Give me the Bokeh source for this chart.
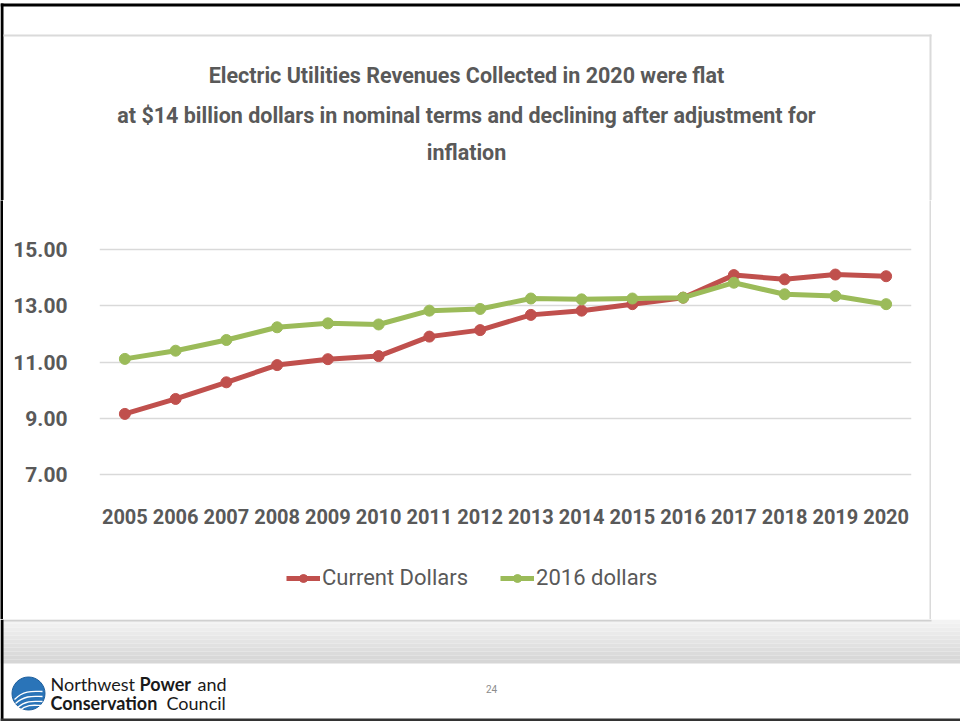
from bokeh.plotting import figure
from bokeh.models import (Range1d, FixedTicker, NumeralTickFormatter, Legend,
                          LegendItem, Spacer)
from bokeh.layouts import column, row
from bokeh.core.properties import value
from bokeh.embed import file_html
from bokeh.resources import INLINE

# ---------------- data ----------------
years = [2005, 2006, 2007, 2008, 2009, 2010, 2011, 2012,
         2013, 2014, 2015, 2016, 2017, 2018, 2019, 2020]
current_dollars = [9.16, 9.69, 10.28, 10.89, 11.10, 11.21, 11.90, 12.13,
                   12.67, 12.82, 13.05, 13.28, 14.08, 13.93, 14.10, 14.04]
dollars_2016 = [11.11, 11.40, 11.78, 12.23, 12.37, 12.33, 12.82, 12.88,
                13.25, 13.22, 13.25, 13.28, 13.81, 13.40, 13.34, 13.05]
y_ticks = [7, 9, 11, 13, 15]
series_names = ["Current Dollars", "2016 dollars"]
title_lines = ["Electric Utilities Revenues Collected in 2020 were flat",
               "at $14 billion dollars in nominal terms and declining after adjustment for",
               "inflation"]

RED = "#c0504d"
GREEN = "#9bbb59"
TXT = "#595959"
BOX = "#dadada"
FONT = "Roboto"


def blank(width, height, xr, yr):
    f = figure(width=width, height=height, x_range=Range1d(*xr), y_range=Range1d(*yr),
               output_backend="svg", toolbar_location=None, min_border=0,
               background_fill_color="white", border_fill_color="white")
    f.axis.visible = False
    f.grid.visible = False
    f.outline_line_color = None
    return f


# ---------------- top strip with title ----------------
top = blank(960, 200, (0, 960), (200, 0))
top.quad(left=0, right=960, top=3, bottom=6, fill_color="black", line_color=None)
top.quad(left=0, right=3, top=3, bottom=200, fill_color="black", line_color=None)
top.quad(left=3, right=931, top=34, bottom=36, fill_color=BOX, line_color=None)
top.quad(left=929, right=931, top=34, bottom=200, fill_color=BOX, line_color=None)
top.text(x=[466, 466, 466], y=[75, 115, 152], text=title_lines,
         text_font=value(FONT), text_font_style="bold", text_font_size="21.5px",
         text_color=TXT, text_align="center", text_baseline="middle")

# ---------------- chart ----------------
p = figure(frame_width=812, frame_height=237,
           x_range=Range1d(2004.5, 2020.5), y_range=Range1d(6.8, 15.2),
           output_backend="svg", toolbar_location=None,
           min_border_left=96, min_border_right=18,
           min_border_top=43, min_border_bottom=60,
           background_fill_color="white", border_fill_color="white")
p.outline_line_color = None
p.xgrid.visible = False
p.ygrid.ticker = FixedTicker(ticks=y_ticks)
p.ygrid.grid_line_color = "#d9d9d9"
p.ygrid.grid_line_width = 1.5

p.yaxis.ticker = FixedTicker(ticks=y_ticks)
p.yaxis.formatter = NumeralTickFormatter(format="0.00")
p.xaxis.ticker = FixedTicker(ticks=years)
for ax in (p.xaxis, p.yaxis):
    ax.axis_line_color = None
    ax.major_tick_line_color = None
    ax.minor_tick_line_color = None
    ax.major_label_text_font = FONT
    ax.major_label_text_font_style = "bold"
    ax.major_label_text_color = TXT
p.yaxis.major_label_text_font_size = "21px"
p.xaxis.major_label_text_font_size = "20px"
p.yaxis.major_label_standoff = 26
p.xaxis.major_label_standoff = 22

p.line(years, current_dollars, line_color=RED, line_width=5, line_join="round")
p.scatter(years, current_dollars, size=11, fill_color=RED, line_color=RED)
p.line(years, dollars_2016, line_color=GREEN, line_width=5, line_join="round")
p.scatter(years, dollars_2016, size=11, fill_color=GREEN, line_color=GREEN)

# ---------------- legend strip ----------------
# the series are drawn again here only to feed the legend keys; the strip's
# ranges keep them outside its visible frame
leg = blank(926, 79, (0, 1), (0, 1))
l1 = leg.line(years, current_dollars, line_color=RED, line_width=5)
s1 = leg.scatter(years, current_dollars, size=11, fill_color=RED, line_color=RED)
l2 = leg.line(years, dollars_2016, line_color=GREEN, line_width=5)
s2 = leg.scatter(years, dollars_2016, size=11, fill_color=GREEN, line_color=GREEN)
legend = Legend(items=[LegendItem(label=series_names[0], renderers=[l1, s1]),
                       LegendItem(label=series_names[1], renderers=[l2, s2])],
                orientation="horizontal", location=(187, 29),
                label_text_font=FONT, label_text_font_size="22px",
                label_text_color=TXT, glyph_width=34, glyph_height=20,
                label_standoff=2, spacing=32, padding=8, margin=0,
                border_line_color=None, background_fill_alpha=0)
leg.add_layout(legend, "center")

left_strip = blank(3, 419, (0, 1), (0, 1))
left_strip.background_fill_color = "black"
left_strip.border_fill_color = "black"
right_strip = blank(2, 419, (0, 1), (0, 1))
right_strip.background_fill_color = BOX
right_strip.border_fill_color = BOX

middle = row(left_strip, column(p, leg, spacing=0), right_strip,
             Spacer(width=29, height=419), spacing=0)

# ---------------- footer ----------------
f = blank(960, 102, (0, 960), (102, 0))
band_colors = ["#f3f3f3", "#f0f0f0", "#ededed", "#eaeaea", "#e7e7e7", "#e4e4e4",
               "#e1e1e1", "#dedede", "#dbdbdb", "#d8d8d8", "#d6d6d6"]
for i, col in enumerate(band_colors):
    f.quad(left=0, right=960, top=i * 4, bottom=i * 4 + 4,
           fill_color=col, line_color=None)
f.quad(left=3, right=931, top=0, bottom=2, fill_color="#d0d0d0", line_color=None)
f.quad(left=0, right=3, top=0, bottom=102, fill_color="black", line_color=None)
f.quad(left=0, right=960, top=99, bottom=102, fill_color="#333333", line_color=None)

# logo
f.scatter([28], [74], size=33, fill_color="#2a74b8", line_color="#1d5e9c")
f.bezier(x0=[14, 15, 17, 19], y0=[80, 84, 88, 91],
         x1=[42, 42, 42, 41], y1=[72, 77, 82, 86],
         cx0=[24, 25, 26, 27], cy0=[70, 75, 80, 84],
         cx1=[34, 34, 35, 35], cy1=[72, 77, 82, 86],
         line_color="white", line_width=1.3)

seg_font = "Lato"
ink = "#1a1a1a"
f.text(x=[50], y=[64], text=["Northwest"], text_font=value(seg_font),
       text_font_size="18px", text_color=ink, text_baseline="middle")
f.text(x=[139], y=[64], text=["Power"], text_font=value(seg_font),
       text_font_style="bold", text_font_size="18px", text_color=ink,
       text_baseline="middle")
f.text(x=[197], y=[64], text=["and"], text_font=value(seg_font),
       text_font_size="18px", text_color=ink, text_baseline="middle")
f.text(x=[50], y=[83], text=["Conservation"], text_font=value(seg_font),
       text_font_style="bold", text_font_size="18px", text_color=ink,
       text_baseline="middle")
f.text(x=[166], y=[83], text=["Council"], text_font=value(seg_font),
       text_font_size="18px", text_color=ink, text_baseline="middle")
f.text(x=[491], y=[69], text=["24"], text_font=value(FONT),
       text_font_size="10px", text_color="#8c8c8c", text_baseline="middle",
       text_align="center")

layout = column(top, middle, f, spacing=0)
open("out.html", "w").write(file_html(layout, INLINE))
